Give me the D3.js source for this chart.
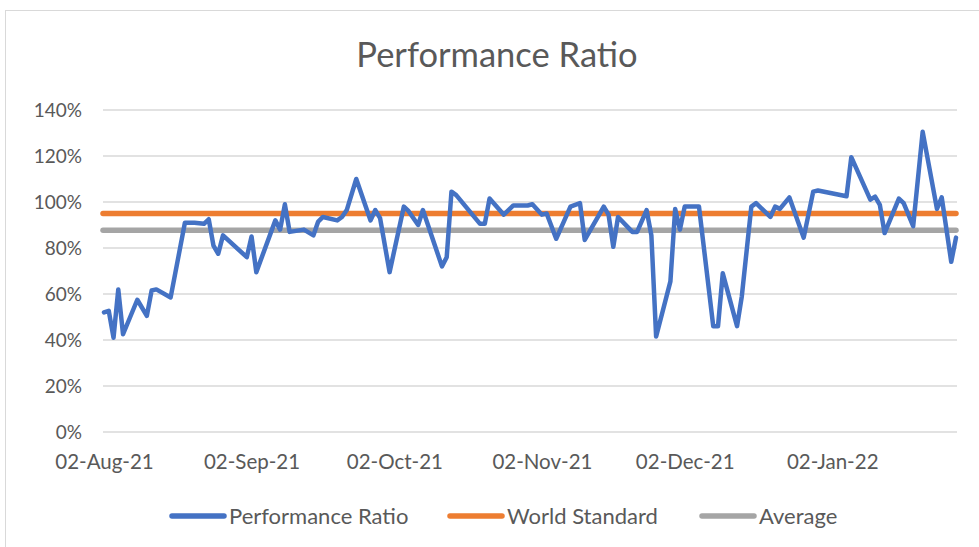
<!DOCTYPE html>
<html>
<head>
<meta charset="utf-8">
<script src="https://cdn.jsdelivr.net/npm/d3@7"></script>
<style>
  body { margin: 0; background: #fff; }
  svg text { font-family: Lato, "Open Sans", sans-serif; fill: #595959; }
</style>
</head>
<body>
<div id="chart"></div>
<script>
// performance ratio readings (date, %)
const dates = [
  "2021-08-02","2021-08-03","2021-08-04","2021-08-05","2021-08-06","2021-08-09","2021-08-11","2021-08-12",
  "2021-08-13","2021-08-16","2021-08-19","2021-08-21","2021-08-23","2021-08-24","2021-08-25","2021-08-26",
  "2021-08-27","2021-09-01","2021-09-02","2021-09-03","2021-09-07","2021-09-08","2021-09-09","2021-09-10",
  "2021-09-13","2021-09-15","2021-09-16","2021-09-17","2021-09-20","2021-09-21","2021-09-22","2021-09-24",
  "2021-09-27","2021-09-28","2021-09-29","2021-10-01","2021-10-04","2021-10-05","2021-10-07","2021-10-08",
  "2021-10-12","2021-10-13","2021-10-14","2021-10-15","2021-10-20","2021-10-21","2021-10-22","2021-10-25",
  "2021-10-27","2021-10-30","2021-10-31","2021-11-02","2021-11-03","2021-11-05","2021-11-08","2021-11-10",
  "2021-11-11","2021-11-15","2021-11-16","2021-11-17","2021-11-18","2021-11-21","2021-11-22","2021-11-24",
  "2021-11-25","2021-11-26","2021-11-29","2021-11-30","2021-12-01","2021-12-02","2021-12-05","2021-12-08",
  "2021-12-09","2021-12-10","2021-12-13","2021-12-14","2021-12-16","2021-12-17","2021-12-20","2021-12-21",
  "2021-12-22","2021-12-24","2021-12-27","2021-12-29","2021-12-30","2022-01-05","2022-01-06","2022-01-10",
  "2022-01-11","2022-01-12","2022-01-13","2022-01-16","2022-01-17","2022-01-19","2022-01-21","2022-01-24",
  "2022-01-25","2022-01-27","2022-01-28"
];
const ratio = [
  52, 52.7, 41, 62, 42.5, 57.5, 50.5, 61.5,
  62, 58.5, 91, 91, 90.5, 92.5, 81, 77.5,
  85.5, 76, 85, 69.5, 92, 88, 99, 87,
  88, 85.5, 91.5, 93.5, 92, 93.5, 96.5, 110,
  92, 96.5, 93, 69.5, 98, 96, 90, 96.5,
  72, 76, 104.5, 103, 90.5, 90.5, 101.5, 94.5,
  98.5, 98.5, 99, 94.5, 95, 84, 98, 99.5,
  83.5, 98, 94.5, 80.5, 93.5, 87, 87, 96.5,
  85.5, 41.5, 65.5, 97, 88, 98, 98, 46,
  46, 69, 46, 59, 98, 99.5, 93.5, 98,
  97, 102, 84.5, 104.5, 105, 102.5, 119.5, 101,
  102.3, 98.7, 86.5, 101.5, 99.5, 89.5, 130.5, 97,
  102, 74, 84.5
];
const worldStandard = 95;
const average = 87.7;
const yTicks = [0, 20, 40, 60, 80, 100, 120, 140];
const xTicks = ["2021-08-02","2021-09-02","2021-10-02","2021-11-02","2021-12-02","2022-01-02"];
const seriesNames = ["Performance Ratio", "World Standard", "Average"];
const seriesColors = ["#4472C4", "#ED7D31", "#A5A5A5"];

const W = 979, H = 547;
const parse = d3.timeParse("%Y-%m-%d");
const data = dates.map((d, i) => ({ date: parse(d), value: ratio[i] }));

const svg = d3.select("#chart").append("svg")
  .attr("width", W).attr("height", H);

// chart frame
svg.append("rect")
  .attr("x", 5.5).attr("y", 10.5)
  .attr("width", W).attr("height", H)
  .attr("fill", "#fff").attr("stroke", "#d9d9d9");

const x = d3.scaleTime()
  .domain([parse("2021-08-02"), parse("2022-01-28")])
  .range([104, 956]);
const y = d3.scaleLinear().domain([0, 140]).range([432, 110]);

// gridlines
svg.append("g")
  .selectAll("line")
  .data(yTicks)
  .enter()
  .append("line")
  .attr("x1", 103).attr("x2", 957)
  .attr("y1", d => y(d)).attr("y2", d => y(d))
  .attr("stroke", "#d9d9d9").attr("stroke-width", 1.5);

// y axis labels
const yAxis = svg.append("g")
  .attr("transform", "translate(82,0)")
  .call(d3.axisLeft(y).tickValues(yTicks).tickFormat(d => d + "%").tickSize(0).tickPadding(0));
yAxis.select(".domain").remove();
yAxis.selectAll("text").attr("font-size", 19).style("font-family", "Lato, sans-serif").attr("fill", "#595959");

// x axis labels
const fmt = d3.timeFormat("%d-%b-%y");
const xAxis = svg.append("g")
  .attr("transform", "translate(0,454)")
  .call(d3.axisBottom(x).tickValues(xTicks.map(parse)).tickFormat(fmt).tickSize(0).tickPadding(0));
xAxis.select(".domain").remove();
xAxis.selectAll("text").attr("font-size", 20.5).style("font-family", "Lato, sans-serif").attr("fill", "#595959");

// reference lines
const refs = [worldStandard, average];
refs.forEach((v, i) => {
  svg.append("line")
    .attr("x1", x.range()[0] - 1).attr("x2", x.range()[1])
    .attr("y1", y(v)).attr("y2", y(v))
    .attr("stroke", seriesColors[i + 1]).attr("stroke-width", 5.5)
    .attr("stroke-linecap", "round");
});

// performance ratio line
const line = d3.line()
  .x(d => x(d.date))
  .y(d => y(d.value));

svg.append("path")
  .datum(data)
  .attr("d", line)
  .attr("fill", "none")
  .attr("stroke", seriesColors[0])
  .attr("stroke-width", 4.5)
  .attr("stroke-linejoin", "round")
  .attr("stroke-linecap", "round");

// title
svg.append("text")
  .attr("x", 497).attr("y", 67)
  .attr("text-anchor", "middle")
  .attr("font-size", 34.5)
  .text("Performance Ratio");

// legend
const legendX = [170, 448, 700];
const legend = svg.append("g").selectAll("g")
  .data(seriesNames)
  .enter()
  .append("g")
  .attr("transform", (d, i) => "translate(" + legendX[i] + ",516)");
legend.append("line")
  .attr("x1", 2).attr("x2", 54)
  .attr("stroke", (d, i) => seriesColors[i])
  .attr("stroke-width", 5.5)
  .attr("stroke-linecap", "round");
legend.append("text")
  .attr("x", 59).attr("dy", "0.35em")
  .attr("font-size", 22)
  .text(d => d);
</script>
</body>
</html>
